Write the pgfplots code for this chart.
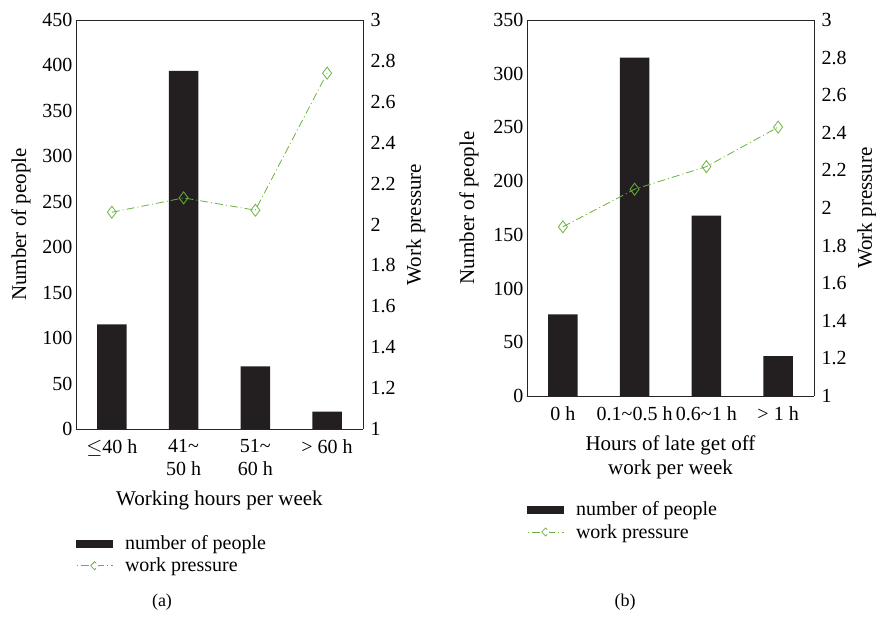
\documentclass[border=0pt]{standalone}
\usepackage{fontspec}
\setmainfont{Liberation Serif}
\usepackage{pgfplots}
\pgfplotsset{compat=1.18}
\definecolor{barc}{HTML}{231F20}
\definecolor{linec}{HTML}{6AB23E}
\pgfplotsset{
  common/.style={
    scale only axis, width=287pt,
    xmin=-0.5, xmax=3.5,
    font=\fontsize{20}{23}\selectfont,
    /pgf/number format/assume math mode=true,
    major tick length=0pt,
    axis line style={line width=0.9pt, black!85},
    every axis label/.append style={font=\fontsize{21}{24}\selectfont},
  },
  barax/.style={common, ybar, bar width=29.7pt, ymin=0,
    xtick={0,1,2,3}, axis y line*=left, axis x line*=box,
    ylabel={Number of people},
    xticklabel style={yshift=-7pt},
    xlabel style={yshift=-8pt},
  },
  lineax/.style={common, ymin=1, ymax=3, ytick={1,1.2,...,3.01},
    yticklabel style={/pgf/number format/fixed, /pgf/number format/precision=1, xshift=4pt},
    axis y line*=right, axis x line=none,
    ylabel={Work pressure}, ylabel style={yshift=-4pt},
    legend cell align=left,
    legend style={draw=none, fill=none, font=\fontsize{20}{23}\selectfont, row sep=3pt,
      column sep=10pt, inner xsep=0pt, anchor=north west},
  },
  barleg/.style={legend image code/.code={\fill[barc] (0pt,-3.5pt) rectangle (36pt,3.5pt);}},
  lineleg/.style={legend image code/.code={
     \draw[linec, line width=0.8pt, dash pattern=on 1pt off 3pt on 8pt off 3pt] (0pt,0pt) -- (36pt,0pt);
     \draw[linec, line width=0.8pt, fill=white] (18pt,0pt) +(-4pt,0) -- +(0,4pt) -- +(4pt,0) -- +(0,-4pt) -- cycle;}},
  wp/.style={linec, line width=0.8pt, dash pattern=on 8pt off 3pt on 1pt off 3pt,
    mark=diamond, mark size=6pt, mark options={solid, line width=0.8pt}},
}
\begin{document}
\begin{tikzpicture}
\useasboundingbox (0pt,0pt) rectangle (876pt,620pt);
% ---------- (a)
\begin{axis}[barax, at={(76pt,191pt)}, anchor=south west, height=409pt,
  ymax=450, ytick={0,50,...,450},
  ylabel style={yshift=5pt},
  xticklabels={{$\leq$40 h},{41\textasciitilde\\50 h},{51\textasciitilde\\60 h},{> 60 h}},
  xticklabel style={align=center},
  xlabel={Working hours per week}]
\addplot[fill=barc, draw=none] coordinates {(0,115) (1,394) (2,69) (3,19)};
\end{axis}
\begin{axis}[lineax, at={(76pt,191pt)}, anchor=south west, height=409pt,
  legend style={at={(axis description cs:0,-0.25)}}]
\addlegendimage{barleg}\addlegendentry{number of people}
\addplot[wp, lineleg] coordinates {(0,2.06) (1,2.13) (2,2.07) (3,2.74)};
\addlegendentry{work pressure}
\end{axis}
\node[font=\fontsize{18}{20}\selectfont] at (162pt,18pt) {(a)};
% ---------- (b)
\begin{axis}[barax, at={(527pt,224pt)}, anchor=south west, height=376pt,
  ymax=350, ytick={0,50,...,350},
  ylabel style={yshift=8pt},
  xticklabels={{0 h},{0.1\textasciitilde0.5 h},{0.6\textasciitilde1 h},{> 1 h}},
  xlabel style={align=center},
  xlabel={Hours of late get off\\work per week}]
\addplot[fill=barc, draw=none] coordinates {(0,76) (1,315) (2,168) (3,37)};
\end{axis}
\begin{axis}[lineax, at={(527pt,224pt)}, anchor=south west, height=376pt,
  legend style={at={(axis description cs:0,-0.27)}}]
\addlegendimage{barleg}\addlegendentry{number of people}
\addplot[wp, lineleg] coordinates {(0,1.90) (1,2.10) (2,2.22) (3,2.43)};
\addlegendentry{work pressure}
\end{axis}
\node[font=\fontsize{18}{20}\selectfont] at (625pt,18pt) {(b)};
\end{tikzpicture}
\end{document}
